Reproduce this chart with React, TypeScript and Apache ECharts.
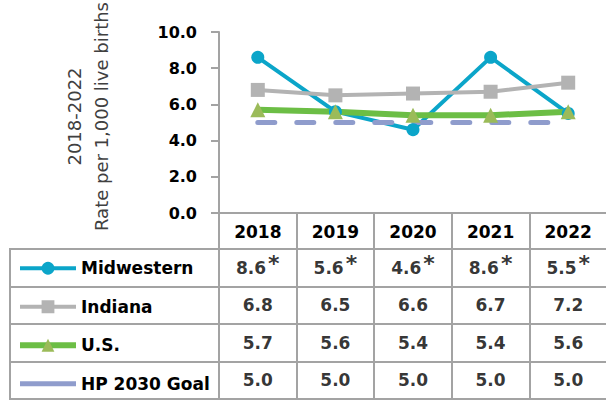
import React, { useEffect, useRef } from 'react';
import * as echarts from 'echarts';

const years = ['2018', '2019', '2020', '2021', '2022'];
const seriesNames = ['Midwestern', 'Indiana', 'U.S.', 'HP 2030 Goal'];
const midwestern = [8.6, 5.6, 4.6, 8.6, 5.5];
const midwesternNotes = ['*', '*', '*', '*', '*'];
const indiana = [6.8, 6.5, 6.6, 6.7, 7.2];
const us = [5.7, 5.6, 5.4, 5.4, 5.6];
const hpGoal = [5.0, 5.0, 5.0, 5.0, 5.0];
const yAxisTitle = ['2018-2022', 'Rate per 1,000 live births'];
const yMin = 0;
const yMax = 10;
const yStep = 2;

const FONT = 'DejaVu Sans';
const GRID_LINE = '#a3a3a3';
const C_MID = '#0ba5c9';
const C_IND = '#b3b3b3';
const C_US_LINE = '#6cbe45';
const C_US_MARK = '#9bbb59';
const C_HP = '#8f9ccc';

export default function App() {
  const ref = useRef<HTMLDivElement>(null);

  useEffect(() => {
    if (!ref.current) return;
    const chart = echarts.init(ref.current, undefined, { renderer: 'svg' });

    const rows = [midwestern, indiana, us, hpGoal];
    const notes = [midwesternNotes, [], [], []];
    const tableData: any[] = [];
    rows.forEach((vals, r) => {
      vals.forEach((v, i) => {
        tableData.push({ value: [i, r, v.toFixed(1), (notes[r] as string[])[i] || ''] });
      });
    });

    const boldText = { fontFamily: FONT, fontWeight: 'bold' as const, fontSize: 17, color: '#000' };

    chart.setOption({
      animation: false,
      grid: [
        { left: 219, top: 32, width: 388, height: 181, show: false, outerBoundsMode: 'none', containLabel: false },
        { left: 219, top: 249, width: 388, height: 150, show: true, borderColor: GRID_LINE, borderWidth: 2, backgroundColor: 'transparent', outerBoundsMode: 'none' },
        { left: 10, top: 249, width: 209, height: 150, show: true, borderColor: GRID_LINE, borderWidth: 2, backgroundColor: 'transparent', outerBoundsMode: 'none' },
      ],
      legend: {
        orient: 'vertical',
        left: 17,
        top: 259.75,
        padding: 0,
        itemGap: 21.5,
        itemWidth: 56,
        itemHeight: 16,
        selectedMode: false,
        textStyle: { ...boldText, lineHeight: 16 },
        data: [
          { name: seriesNames[0], itemStyle: { color: C_MID }, lineStyle: { color: C_MID, width: 4, type: 'solid' } },
          { name: seriesNames[1], itemStyle: { color: C_IND }, lineStyle: { color: C_IND, width: 4, type: 'solid' } },
          { name: seriesNames[2], itemStyle: { color: C_US_MARK }, lineStyle: { color: C_US_LINE, width: 6, type: 'solid' } },
          { name: seriesNames[3], icon: 'path://M0 0H56V5H0Z', itemStyle: { color: C_HP, borderWidth: 0 } },
        ],
      },
      xAxis: [
        {
          type: 'category',
          gridIndex: 0,
          data: years,
          boundaryGap: true,
          axisLine: { show: true, lineStyle: { color: GRID_LINE, width: 2 } },
          axisTick: { show: true, length: 36, interval: 0, lineStyle: { color: GRID_LINE, width: 2 } },
          axisLabel: { ...boldText, margin: 10, interval: 0 },
          splitLine: { show: false },
        },
        {
          type: 'category',
          gridIndex: 1,
          data: years,
          boundaryGap: true,
          axisLine: { show: false },
          axisTick: { show: false },
          axisLabel: { show: false },
          splitLine: { show: true, interval: 0, lineStyle: { color: GRID_LINE, width: 2 } },
        },
        { type: 'value', gridIndex: 2, show: false, min: 0, max: 1 },
      ],
      yAxis: [
        {
          type: 'value',
          gridIndex: 0,
          min: yMin,
          max: yMax,
          interval: yStep,
          name: yAxisTitle.join('\n'),
          nameLocation: 'middle',
          nameRotate: 90,
          nameGap: 104,
          nameTextStyle: { fontFamily: FONT, fontSize: 18, color: '#404040', lineHeight: 27, padding: [0, 0, 0, 12] },
          axisLine: { show: true, lineStyle: { color: GRID_LINE, width: 2 } },
          axisTick: { show: true, length: 8, lineStyle: { color: GRID_LINE, width: 2 } },
          axisLabel: { fontFamily: FONT, fontWeight: 'bold', fontSize: 16, color: '#000', margin: 22, formatter: (v: number) => v.toFixed(1) },
          splitLine: { show: false },
        },
        {
          type: 'category',
          gridIndex: 1,
          data: seriesNames,
          inverse: true,
          boundaryGap: true,
          axisLine: { show: false },
          axisTick: { show: false },
          axisLabel: { show: false },
          splitLine: { show: true, interval: 0, lineStyle: { color: GRID_LINE, width: 2 } },
        },
        {
          type: 'category',
          gridIndex: 2,
          data: seriesNames,
          inverse: true,
          boundaryGap: true,
          axisLine: { show: false },
          axisTick: { show: false },
          axisLabel: { show: false },
          splitLine: { show: true, interval: 0, lineStyle: { color: GRID_LINE, width: 2 } },
        },
      ],
      series: [
        {
          name: seriesNames[0],
          type: 'line',
          xAxisIndex: 0,
          yAxisIndex: 0,
          data: midwestern,
          symbol: 'circle',
          symbolSize: 13,
          itemStyle: { color: C_MID },
          lineStyle: { color: C_MID, width: 4 },
        },
        {
          name: seriesNames[1],
          type: 'line',
          xAxisIndex: 0,
          yAxisIndex: 0,
          data: indiana,
          symbol: 'rect',
          symbolSize: 14,
          itemStyle: { color: C_IND },
          lineStyle: { color: C_IND, width: 4 },
        },
        {
          name: seriesNames[2],
          type: 'line',
          xAxisIndex: 0,
          yAxisIndex: 0,
          data: us,
          symbol: 'triangle',
          symbolSize: 15,
          itemStyle: { color: C_US_MARK },
          lineStyle: { color: C_US_LINE, width: 6 },
        },
        {
          name: seriesNames[3],
          type: 'line',
          xAxisIndex: 0,
          yAxisIndex: 0,
          data: hpGoal,
          symbol: 'none',
          itemStyle: { color: C_HP },
          lineStyle: { color: C_HP, width: 5, type: [17, 22], cap: 'round' },
        },
        {
          type: 'scatter',
          xAxisIndex: 1,
          yAxisIndex: 1,
          data: tableData,
          symbol: 'circle',
          symbolSize: 1,
          itemStyle: { color: 'rgba(0,0,0,0)' },
          silent: true,
          label: {
            show: true,
            position: 'inside',
            formatter: (p: any) => (p.value[3] ? `{v|${p.value[2]}}{s|${p.value[3]}}` : `{v|${p.value[2]}}`),
            rich: {
              v: { ...boldText, lineHeight: 30 },
              s: { ...boldText, fontSize: 22, lineHeight: 20, verticalAlign: 'top', padding: [0, 0, 0, 2] },
            },
          },
        },
      ],
    });

    return () => chart.dispose();
  }, []);

  return <div ref={ref} style={{ position: 'absolute', left: 0, top: 0, width: 606, height: 404 }} />;
}
